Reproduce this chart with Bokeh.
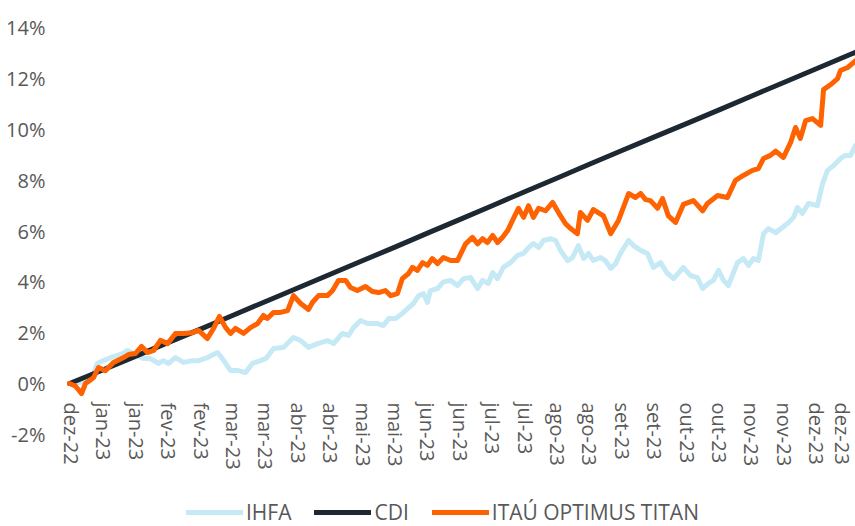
from bokeh.plotting import figure
from bokeh.models import FixedTicker, Legend, LegendItem, Range1d
from bokeh.embed import file_html
from bokeh.resources import INLINE

# ---------------- data (trading-day index, cumulative return in %) ----------------
X_TICK_LABELS = ["dez-22", "jan-23", "jan-23", "fev-23", "fev-23", "mar-23", "mar-23",
                 "abr-23", "abr-23", "mai-23", "mai-23", "jun-23", "jun-23", "jul-23",
                 "jul-23", "ago-23", "ago-23", "set-23", "set-23", "out-23", "out-23",
                 "nov-23", "nov-23", "dez-23", "dez-23"]
Y_TICKS = [-2, 0, 2, 4, 6, 8, 10, 12, 14]

CDI_DAY = [0, 10, 20, 30, 40, 50, 60, 70, 80, 90, 100, 110, 120, 130, 140, 150, 160,
           170, 180, 190, 200, 210, 220, 230, 240, 241.1]
CDI = [0.0, 0.52, 1.06, 1.60, 2.13, 2.68, 3.22, 3.76, 4.30, 4.84, 5.38, 5.93, 6.47,
       7.02, 7.57, 8.11, 8.66, 9.20, 9.74, 10.27, 10.81, 11.36, 11.90, 12.44, 12.98, 13.04]

IHFA_DAY = [0, 3.4, 6.4, 8.6, 10.4, 13.5, 16.3, 17.8, 19.6, 22.7,
            24.8, 27.3, 28.8, 30.4, 32.5, 35.0, 37.7, 39.6, 42.3, 45.4,
            46.9, 49.4, 51.8, 54.0, 56.1, 58.6, 60.4, 62.6, 65.6, 68.7,
            70.9, 73.3, 76.1, 79.1, 81.0, 83.7, 85.6, 87.1, 89.3, 91.4,
            94.5, 96.3, 97.9, 100.0, 102.1, 103.7, 105.5, 107.1, 108.6, 109.8,
            110.7, 112.9, 114.7, 116.9, 119.0, 120.9, 123.0, 125.2, 126.7, 128.5,
            129.8, 131.3, 133.1, 135.3, 137.4, 139.3, 140.8, 142.3, 143.9, 145.4,
            147.5, 149.1, 150.6, 152.8, 154.3, 156.1, 157.7, 159.2, 160.7, 162.9,
            164.4, 166.0, 167.5, 169.0, 171.5, 173.0, 175.2, 177.3, 179.1, 181.3,
            183.4, 185.3, 188.3, 190.5, 192.6, 194.2, 196.0, 197.5, 199.1, 200.6,
            202.1, 204.9, 206.7, 208.3, 209.8, 211.3, 212.9, 214.4, 216.6, 218.7,
            220.6, 222.1, 223.3, 224.8, 226.7, 229.4, 231.0, 232.5, 234.4, 236.5,
            238.0, 239.6, 241.1]
IHFA = [0.0, 0.05, 0.1, 0.8, 0.9, 1.06, 1.18, 1.3, 1.18, 0.98,
        0.98, 0.79, 0.9, 0.79, 1.02, 0.83, 0.9, 0.9, 1.02, 1.22,
        0.98, 0.51, 0.51, 0.43, 0.79, 0.9, 1.0, 1.38, 1.42, 1.81,
        1.69, 1.42, 1.57, 1.69, 1.57, 1.97, 1.89, 2.2, 2.48, 2.36,
        2.36, 2.28, 2.56, 2.56, 2.76, 2.95, 3.15, 3.46, 3.54, 3.19,
        3.66, 3.74, 4.0, 4.06, 3.86, 4.13, 4.17, 3.74, 4.06, 3.94,
        4.37, 4.13, 4.57, 4.76, 5.04, 5.12, 5.35, 5.51, 5.35, 5.63,
        5.7, 5.63, 5.24, 4.84, 4.96, 5.43, 4.92, 5.12, 4.84, 4.96,
        4.84, 4.53, 4.72, 5.12, 5.63, 5.43, 5.24, 5.12, 4.57, 4.76,
        4.33, 4.13, 4.57, 4.25, 4.17, 3.74, 3.94, 4.06, 4.45, 4.06,
        3.86, 4.76, 4.92, 4.65, 4.92, 4.84, 5.9, 6.1, 5.94, 6.14,
        6.34, 6.54, 6.93, 6.7, 7.09, 7.0, 7.87, 8.39, 8.58, 8.86,
        8.98, 8.98, 9.37]

ITAU_DAY = [0, 1.8, 3.7, 4.9, 7.4, 8.9, 11.0, 13.5, 16.3, 18.1,
            20.2, 22.1, 23.9, 25.8, 27.9, 30.1, 32.5, 35.0, 37.7, 39.6,
            42.3, 44.2, 46.0, 47.9, 49.4, 50.9, 53.4, 55.5, 57.7, 59.5,
            60.7, 62.6, 64.7, 66.9, 68.7, 70.9, 73.3, 74.5, 76.4, 79.1,
            80.7, 82.5, 84.7, 86.2, 88.3, 90.8, 92.9, 94.8, 96.9, 98.5,
            100.6, 102.1, 104.0, 105.2, 106.7, 108.3, 109.8, 111.3, 112.9, 114.7,
            116.9, 119.0, 121.5, 123.6, 125.2, 126.7, 128.2, 129.8, 131.3, 132.8,
            134.4, 135.9, 137.7, 139.3, 140.8, 142.3, 143.9, 146.0, 148.2, 150.0,
            152.1, 153.7, 155.8, 156.7, 158.9, 160.7, 163.8, 166.0, 168.4, 171.5,
            173.6, 175.2, 176.7, 178.2, 180.4, 181.9, 183.7, 185.9, 188.3, 191.4,
            194.2, 195.7, 198.8, 201.8, 204.3, 206.7, 209.5, 211.3, 212.9, 215.0,
            216.6, 219.0, 221.2, 222.7, 224.2, 225.8, 227.9, 230.4, 231.3, 233.4,
            235.6, 236.5, 238.7, 241.1]
ITAU = [0.0, -0.1, -0.4, 0.0, 0.24, 0.63, 0.5, 0.83, 1.0, 1.14,
        1.18, 1.46, 1.22, 1.3, 1.7, 1.57, 1.97, 1.97, 2.0, 2.09,
        1.77, 2.17, 2.64, 2.2, 1.97, 2.17, 1.97, 2.2, 2.36, 2.68,
        2.56, 2.8, 2.8, 2.87, 3.46, 3.15, 2.91, 3.19, 3.46, 3.46,
        3.66, 4.06, 4.06, 3.78, 3.66, 3.82, 3.62, 3.58, 3.66, 3.46,
        3.54, 4.13, 4.33, 4.57, 4.45, 4.76, 4.65, 4.92, 4.72, 4.96,
        4.84, 4.84, 5.5, 5.75, 5.5, 5.7, 5.55, 5.83, 5.55, 5.75,
        6.02, 6.42, 6.9, 6.54, 7.0, 6.54, 6.9, 6.8, 7.13, 6.73,
        6.3, 6.1, 5.9, 6.73, 6.42, 6.85, 6.6, 5.9, 6.42, 7.48,
        7.32, 7.48, 7.24, 7.2, 6.9, 7.28, 6.6, 6.34, 7.05, 7.2,
        6.8, 7.09, 7.4, 7.32, 8.0, 8.19, 8.39, 8.46, 8.86, 8.98,
        9.15, 8.9, 9.49, 10.08, 9.65, 10.35, 10.43, 10.16, 11.57, 11.76,
        12.0, 12.32, 12.44, 12.7]

# ---------------- layout ----------------
# Bokeh's standalone page template has no body margin, so the canvas starts at (0, 0)
W, H = 855, 526
BL, BR, BT, BB = 52, 0, 20, 0
ZERO_X = 69       # x of day 0
ZERO_Y = 383      # y of 0%
PX_PER_PCT = 25.4
XLABEL_TOP = 402  # y where the rotated category labels begin

frame_left = BL
frame_right = W - BR
frame_top = BT
frame_bottom = H - BB

LAST_DAY = 241.1
px_per_day = (frame_right - ZERO_X) / LAST_DAY
x0 = (frame_left - ZERO_X) / px_per_day
x1 = LAST_DAY
y1 = (ZERO_Y - frame_top) / PX_PER_PCT
y0 = (ZERO_Y - frame_bottom) / PX_PER_PCT

# category ticks: the first sits 2px right of the series start, then evenly spaced
tick_step = 32.4 / px_per_day
x_ticks = [round(2 / px_per_day + tick_step * k, 2) for k in range(len(X_TICK_LABELS))]

FONT = "Open Sans"
GRAY = "#595959"

p = figure(width=W, height=H, output_backend="svg", toolbar_location=None,
           x_range=Range1d(x0, x1), y_range=Range1d(y0, y1),
           min_border_left=BL, min_border_right=BR, min_border_top=BT,
           min_border_bottom=BB)
p.outline_line_color = None
p.xgrid.visible = False
p.ygrid.visible = False
p.background_fill_color = "white"
p.border_fill_color = "white"

# y axis
p.yaxis.ticker = FixedTicker(ticks=Y_TICKS)
p.yaxis.major_label_overrides = {t: f"{t}%" for t in Y_TICKS}
p.yaxis.axis_line_color = None
p.yaxis.major_tick_line_color = None
p.yaxis.minor_tick_line_color = None
p.yaxis.major_tick_out = 0
p.yaxis.major_label_standoff = 7
p.yaxis.major_label_text_font = FONT
p.yaxis.major_label_text_font_size = "20px"
p.yaxis.major_label_text_color = GRAY

# x axis: labels pulled up into the frame so they start just under the 0% line
p.xaxis.ticker = FixedTicker(ticks=x_ticks)
p.xaxis.major_label_overrides = {t: lab for t, lab in zip(x_ticks, X_TICK_LABELS)}
p.xaxis.major_label_orientation = "vertical"
p.xaxis.axis_line_color = None
p.xaxis.major_tick_line_color = None
p.xaxis.minor_tick_line_color = None
p.xaxis.major_tick_out = 0
p.xaxis.major_label_standoff = XLABEL_TOP - frame_bottom
p.xaxis.major_label_text_font = FONT
p.xaxis.major_label_text_font_size = "20px"
p.xaxis.major_label_text_color = GRAY

r_ihfa = p.line(IHFA_DAY, IHFA, line_width=5, color="#c6e9f6",
                line_join="round", line_cap="round")
r_cdi = p.line(CDI_DAY, CDI, line_width=5, color="#1d2832",
               line_join="round", line_cap="round")
r_itau = p.line(ITAU_DAY, ITAU, line_width=5, color="#ff6200",
                line_join="round", line_cap="round")

legend = Legend(items=[LegendItem(label="IHFA", renderers=[r_ihfa]),
                       LegendItem(label="CDI", renderers=[r_cdi]),
                       LegendItem(label="ITAÚ OPTIMUS TITAN", renderers=[r_itau])],
                orientation="horizontal",
                location=(186 - frame_left, 0),
                glyph_width=57, glyph_height=20, label_standoff=3, spacing=23,
                padding=0, margin=0, border_line_color=None,
                background_fill_alpha=0,
                label_text_font=FONT, label_text_font_size="21px",
                label_text_color=GRAY)
p.add_layout(legend, "center")

open("out.html", "w").write(file_html(p, INLINE))
